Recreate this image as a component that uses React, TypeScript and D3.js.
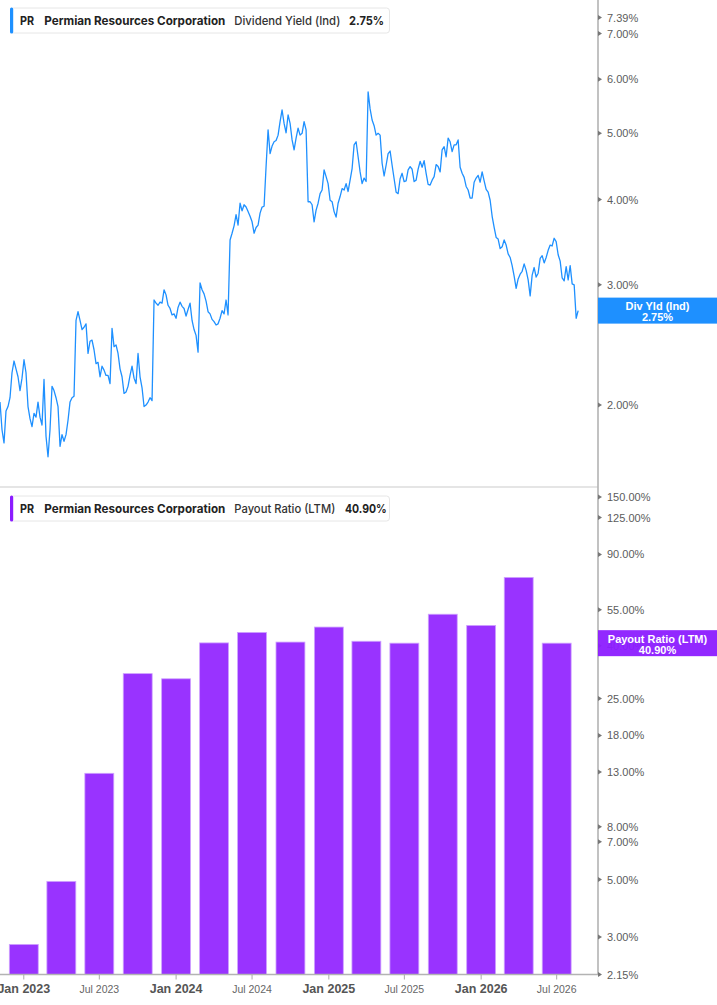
import React from "react";
import * as d3 from "d3";

// ---------- DATA ----------
const company = "Permian Resources Corporation";
const ticker = "PR";

// Dividend yield (indicated), %, sampled every ~4.8 days from the start date
const yieldStart = "2022-11-05";
const yieldStepDays = 4.794;
const divYield = [
  2.02, 1.84, 1.76, 1.96, 1.99, 2.05, 2.23, 2.32, 2.26, 2.20,
  2.10, 2.19, 2.33, 2.23, 1.99, 1.91, 1.86, 1.945, 1.92, 2.02,
  1.92, 1.87, 2.18, 1.80, 1.68, 1.84, 2.13, 2.10, 2.05, 1.99,
  1.74, 1.81, 1.77, 1.81, 1.90, 2.02, 2.05, 2.06, 2.66, 2.74,
  2.66, 2.58, 2.60, 2.63, 2.38, 2.48, 2.49, 2.41, 2.30, 2.31,
  2.20, 2.28, 2.25, 2.21, 2.21, 2.15, 2.59, 2.435, 2.45, 2.38,
  2.26, 2.20, 2.08, 2.09, 2.13, 2.21, 2.28, 2.19, 2.15, 2.38,
  2.20, 2.12, 1.99, 2.00, 2.02, 2.05, 2.03,
  2.85, 2.82, 2.80, 2.83, 2.82, 2.95, 2.90, 2.80, 2.77, 2.71,
  2.72, 2.68, 2.78, 2.83, 2.79, 2.77, 2.70, 2.76, 2.82, 2.66,
  2.58, 2.53, 2.39, 3.02, 2.95, 2.91, 2.84, 2.74, 2.72, 2.67,
  2.65, 2.62, 2.63, 2.68, 2.75, 2.72, 2.85, 2.71, 3.49, 3.57,
  3.66, 3.80, 3.67, 3.95, 3.85, 3.93, 3.90, 3.84, 3.78, 3.71,
  3.57, 3.64, 3.67, 3.82, 3.90, 3.91, 4.47, 5.06, 4.67, 4.79,
  4.86, 4.88, 4.97, 5.20, 5.41, 5.17, 5.01, 5.32,
  5.17, 4.89, 4.73, 4.92, 5.09, 4.97, 5.00, 5.20, 5.06, 3.97,
  3.97, 3.93, 3.71, 3.86, 3.95, 4.08, 4.13, 4.42, 4.32, 4.22,
  3.99, 3.97, 3.84, 3.77, 3.95, 4.04, 4.15, 4.13, 4.22, 4.11,
  4.27, 4.44, 4.81, 4.86, 4.62, 4.39, 4.22, 4.30, 4.25, 5.75,
  5.43, 5.23, 5.13, 4.97, 5.00, 4.97, 4.52, 4.33, 4.49, 4.67,
  4.71, 4.49, 4.29, 4.10, 4.08, 4.29, 4.37, 4.25, 4.26, 4.42,
  4.47, 4.43, 4.25, 4.27, 4.43, 4.55, 4.46, 4.56, 4.37, 4.21,
  4.20, 4.27, 4.32, 4.50, 4.47,
  4.39, 4.73, 4.78, 4.62, 4.92, 4.86, 4.70, 4.81, 4.81, 4.89,
  4.46, 4.37, 4.31, 4.18, 4.13, 4.02, 4.02, 4.24, 4.30, 4.34,
  4.24, 4.39, 4.26, 4.14, 4.10, 3.99, 3.78, 3.64, 3.52, 3.50,
  3.39, 3.41, 3.49, 3.43, 3.33, 3.29, 3.20, 3.09, 2.965, 3.06,
  3.11, 3.14, 3.22, 3.15, 3.05, 2.89, 3.10, 3.18, 3.08, 3.12,
  3.28, 3.31, 3.23, 3.29, 3.37, 3.43, 3.42, 3.51, 3.47, 3.32,
  3.25, 3.07, 3.04, 3.19, 3.05, 3.20, 3.01, 3.00, 2.68, 2.75,
];

// Payout ratio (LTM), %, quarterly
const payoutQuarters = [
  "2023-01-01", "2023-04-01", "2023-07-01", "2023-10-01",
  "2024-01-01", "2024-04-01", "2024-07-01", "2024-10-01",
  "2025-01-01", "2025-04-01", "2025-07-01", "2025-10-01",
  "2026-01-01", "2026-04-01", "2026-07-01",
];
const payoutRatio = [2.81, 4.92, 12.86, 31.2, 29.8, 41.0, 45.0, 41.3, 47.2, 41.6, 40.9, 52.9, 47.9, 73.4, 40.9];

const yieldTicks = [2, 3, 4, 5, 6, 7, 7.39];
const payoutTicks = [2.15, 3, 5, 7, 8, 13, 18, 25, 40, 55, 90, 125, 150];
const xTickDates = [
  "2023-01-01", "2023-07-01", "2024-01-01", "2024-07-01",
  "2025-01-01", "2025-07-01", "2026-01-01", "2026-07-01",
];
const xDomain = ["2022-11-05", "2026-10-08"];
const yieldDomain = [1.517, 7.39];
const payoutDomain = [2.15, 150];

// ---------- STYLE ----------
const W = 717;
const H = 1005;
const plotRight = 598;
const topBottom = 487;
const topTop = 17.5;
const botTop = 497;
const botBottom = 974.5;
const blue = "#1E90FF";
const purple = "#9933FF";
const labelPurple = "#8C1CFF";
const axisFont = "'Liberation Sans', Arial, sans-serif";
const legendFont = "Inter, 'Noto Sans', sans-serif";

const parse = (s: string) => {
  const [y, m, d] = s.split("-").map(Number);
  return new Date(y, m - 1, d);
};

export default function App() {
  const x = d3.scaleTime().domain(xDomain.map(parse)).range([0, plotRight]);
  const yTop = d3.scaleLog().domain(yieldDomain).range([topBottom, topTop]);
  const yBot = d3.scaleLog().domain(payoutDomain).range([botBottom, botTop]);

  const start = parse(yieldStart);
  const yieldData = divYield.map((v, i) => ({
    date: new Date(start.getTime() + i * yieldStepDays * 86400000),
    v,
  }));
  const linePath = d3
    .line<{ date: Date; v: number }>()
    .x((d) => x(d.date))
    .y((d) => yTop(d.v))(yieldData) as string;

  const qDates = payoutQuarters.map(parse);
  const bw = (x(qDates[1]) - x(qDates[0])) * 0.77;

  const lastYield = divYield[divYield.length - 1];
  const lastPayout = payoutRatio[payoutRatio.length - 1];

  const tri = (y: number) => `M${plotRight},${y - 2.5}L${plotRight + 4},${y}L${plotRight},${y + 2.5}Z`;

  const legend = (
    y0: number,
    accent: string,
    metric: string,
    metricW: number,
    value: string,
    valueX: number,
    valueW: number
  ) => (
    <g>
      <rect x={10.5} y={y0 + 0.5} width={379} height={25} rx={3} fill="#fff" stroke="#e6e6e6" />
      <rect x={10} y={y0} width={3.2} height={26} rx={1.5} fill={accent} />
      <text x={20} y={y0 + 17.5} fontFamily={legendFont} fontSize={12} fontWeight={700} fill="#222" textLength={14} lengthAdjust="spacingAndGlyphs">{ticker}</text>
      <text x={44.3} y={y0 + 17.5} fontFamily={legendFont} fontSize={12} fontWeight={700} fill="#222" textLength={181} lengthAdjust="spacingAndGlyphs">{company}</text>
      <text x={234.3} y={y0 + 17.5} fontFamily={legendFont} fontSize={12} fontWeight={500} fill="#333" textLength={metricW} lengthAdjust="spacingAndGlyphs">{metric}</text>
      <text x={valueX} y={y0 + 17.5} fontFamily={legendFont} fontSize={12} fontWeight={700} fill="#222" textLength={valueW} lengthAdjust="spacingAndGlyphs">{value}</text>
    </g>
  );

  return (
    <svg width={W} height={H} style={{ position: "absolute", left: 0, top: 0, background: "#fff" }}>
      <defs>
        <clipPath id="topClip">
          <rect x={0} y={0} width={plotRight} height={topBottom} />
        </clipPath>
      </defs>

      {/* separator between panels */}
      <line x1={0} x2={plotRight} y1={topBottom} y2={topBottom} stroke="#dcdcdc" strokeWidth={1.5} />

      {/* yield line */}
      <path d={linePath} fill="none" stroke={blue} strokeWidth={1.3} strokeLinejoin="round" clipPath="url(#topClip)" />

      {/* payout bars */}
      {qDates.map((d, i) => (
        <rect
          key={i}
          x={x(d) - bw / 2}
          y={yBot(payoutRatio[i])}
          width={bw}
          height={botBottom - yBot(payoutRatio[i])}
          fill={purple}
          stroke="#cfa3ff"
          strokeWidth={0.8}
        />
      ))}

      {/* axes lines */}
      <line x1={plotRight} x2={plotRight} y1={0} y2={botBottom} stroke="#b3b3b3" strokeWidth={1.6} />
      <line x1={0} x2={plotRight + 1} y1={botBottom} y2={botBottom} stroke="#b3b3b3" strokeWidth={1.6} />

      {/* top y ticks */}
      {yieldTicks.map((t) => (
        <g key={"yt" + t}>
          <path d={tri(yTop(t))} fill="#777" />
          <text x={607} y={yTop(t)} dominantBaseline="central" fontFamily={axisFont} fontSize={11} fill="#5c5c5c">
            {t.toFixed(2)}%
          </text>
        </g>
      ))}

      {/* bottom y ticks */}
      {payoutTicks.map((t) => (
        <g key={"pt" + t}>
          <path d={tri(yBot(t))} fill="#777" />
          <text x={607} y={yBot(t)} dominantBaseline="central" fontFamily={axisFont} fontSize={11} fill="#5c5c5c">
            {t.toFixed(2)}%
          </text>
        </g>
      ))}

      {/* x ticks */}
      {xTickDates.map((s) => {
        const d = parse(s);
        const isJan = d.getMonth() === 0;
        const xx = x(d);
        return (
          <g key={s}>
            <line x1={xx} x2={xx} y1={botBottom} y2={botBottom + 5} stroke="#aaa" strokeWidth={1} />
            <text
              x={xx}
              y={989}
              textAnchor="middle"
              dominantBaseline="central"
              fontFamily={axisFont}
              fontSize={isJan ? 12.5 : 10.5}
              fontWeight={isJan ? 700 : 400}
              fill={isJan ? "#555" : "#666"}
            >
              {isJan ? "Jan " + d.getFullYear() : "Jul " + d.getFullYear()}
            </text>
          </g>
        );
      })}

      {/* last value labels */}
      <g>
        <rect x={plotRight} y={yTop(lastYield) - 13} width={W - plotRight} height={26} fill={blue} />
        <text x={657.5} y={yTop(lastYield) - 5} textAnchor="middle" dominantBaseline="central" fontFamily={axisFont} fontSize={11} fontWeight={700} fill="#fff">Div Yld (Ind)</text>
        <text x={657.5} y={yTop(lastYield) + 6.5} textAnchor="middle" dominantBaseline="central" fontFamily={axisFont} fontSize={11} fontWeight={700} fill="#fff">{lastYield.toFixed(2)}%</text>
      </g>
      <g>
        <rect x={plotRight} y={yBot(lastPayout) - 13} width={W - plotRight} height={26} fill={labelPurple} opacity={0.95} />
        <text x={657.5} y={yBot(lastPayout) - 4.5} textAnchor="middle" dominantBaseline="central" fontFamily={axisFont} fontSize={11} fontWeight={700} fill="#fff">Payout Ratio (LTM)</text>
        <text x={657.5} y={yBot(lastPayout) + 6.5} textAnchor="middle" dominantBaseline="central" fontFamily={axisFont} fontSize={11} fontWeight={700} fill="#fff">{lastPayout.toFixed(2)}%</text>
      </g>

      {/* legends */}
      {legend(7.5, blue, "Dividend Yield (Ind)", 106, lastYield.toFixed(2) + "%", 349, 35)}
      {legend(495.5, "#8B1CFF", "Payout Ratio (LTM)", 101, lastPayout.toFixed(2) + "%", 345, 41.7)}
    </svg>
  );
}
